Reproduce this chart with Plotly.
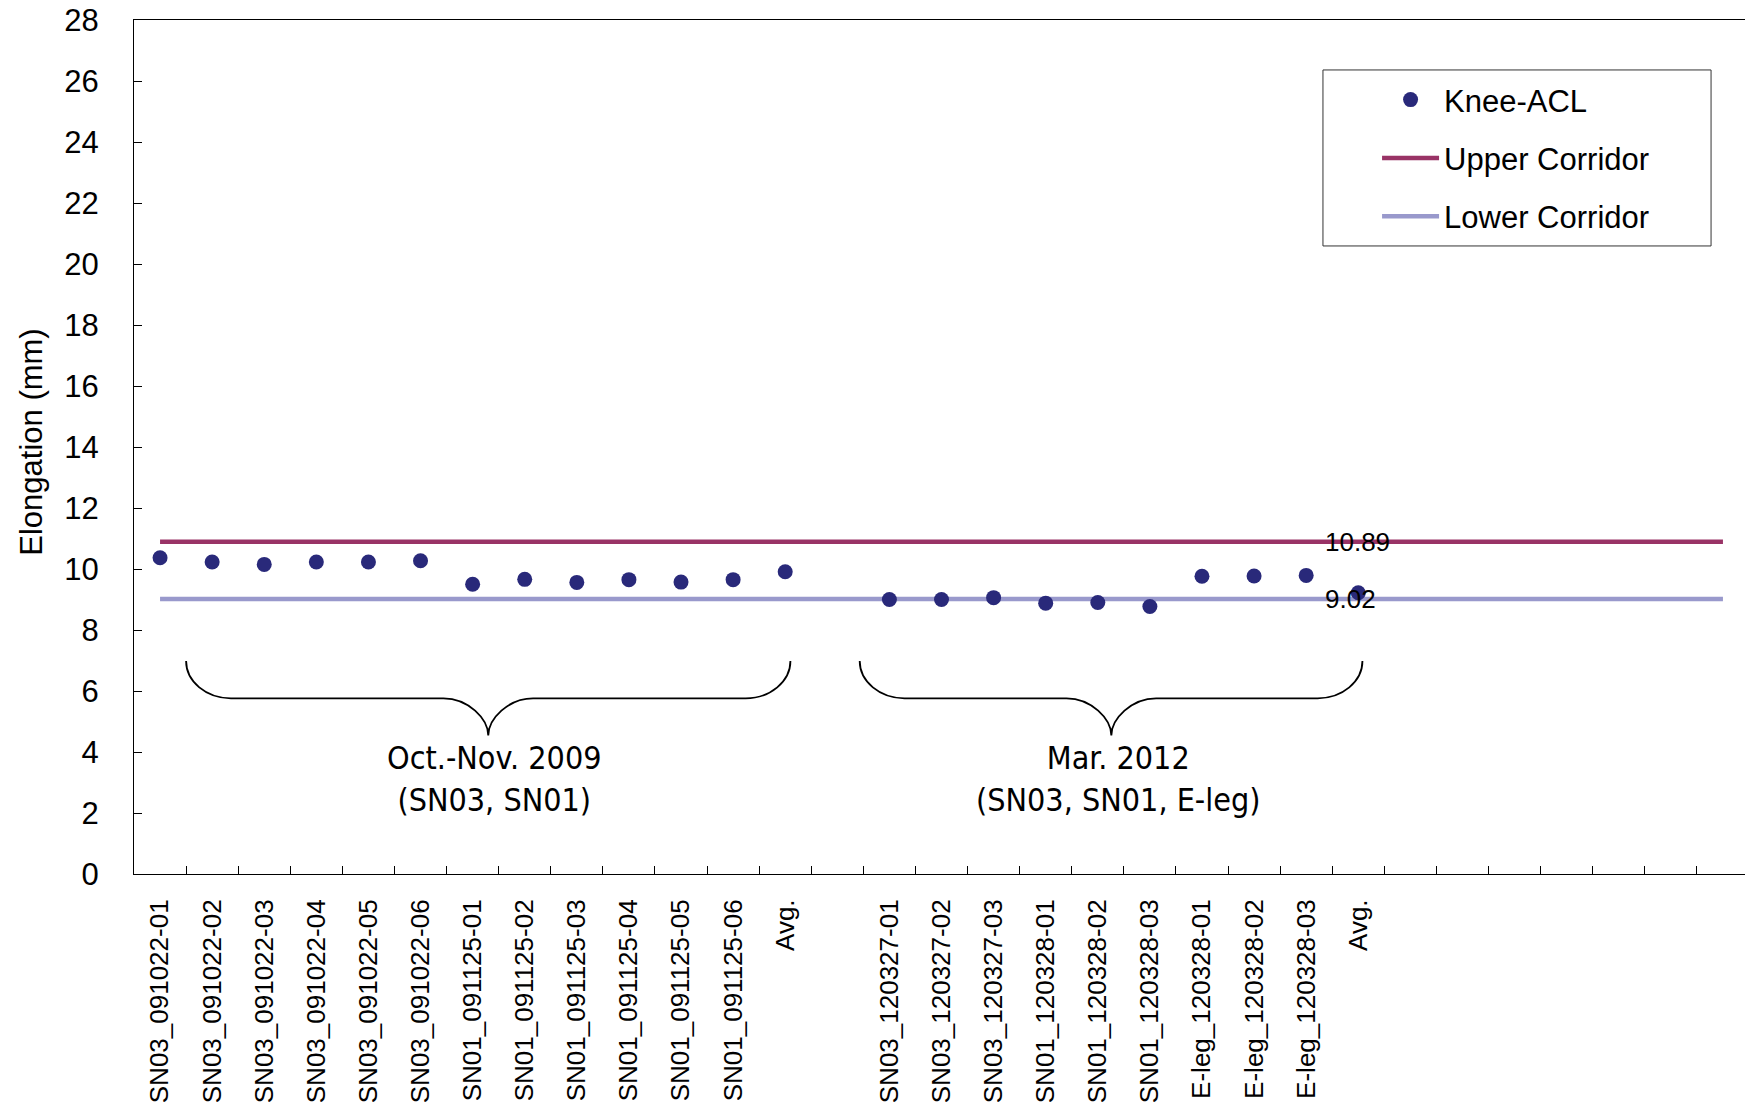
import plotly.graph_objects as go


# Category labels along the x axis (blank slots are empty positions on the axis)
categories = [
    "SN03_091022-01", "SN03_091022-02", "SN03_091022-03", "SN03_091022-04",
    "SN03_091022-05", "SN03_091022-06", "SN01_091125-01", "SN01_091125-02",
    "SN01_091125-03", "SN01_091125-04", "SN01_091125-05", "SN01_091125-06",
    "Avg.", "",
    "SN03_120327-01", "SN03_120327-02", "SN03_120327-03", "SN01_120328-01",
    "SN01_120328-02", "SN01_120328-03", "E-leg_120328-01", "E-leg_120328-02",
    "E-leg_120328-03", "Avg.",
    "", "", "", "", "", "", "",
]

# Knee-ACL elongation (mm), None where a slot is empty
knee_acl = [
    10.37, 10.23, 10.15, 10.23, 10.23, 10.27, 9.50, 9.66, 9.56, 9.65, 9.57, 9.65,
    9.91, None,
    9.00, 9.00, 9.06, 8.88, 8.90, 8.77, 9.76, 9.77, 9.79, 9.22,
    None, None, None, None, None, None, None,
]

upper_corridor = [
    10.89, 10.89, 10.89, 10.89, 10.89, 10.89, 10.89, 10.89, 10.89, 10.89, 10.89,
    10.89, 10.89, 10.89, 10.89, 10.89, 10.89, 10.89, 10.89, 10.89, 10.89, 10.89,
    10.89, 10.89, 10.89, 10.89, 10.89, 10.89, 10.89, 10.89, 10.89,
]
lower_corridor = [
    9.02, 9.02, 9.02, 9.02, 9.02, 9.02, 9.02, 9.02, 9.02, 9.02, 9.02,
    9.02, 9.02, 9.02, 9.02, 9.02, 9.02, 9.02, 9.02, 9.02, 9.02, 9.02,
    9.02, 9.02, 9.02, 9.02, 9.02, 9.02, 9.02, 9.02, 9.02,
]

group_labels = ["Oct.-Nov. 2009<br>(SN03, SN01)", "Mar. 2012<br>(SN03, SN01, E-leg)"]

y_ticks = [0, 2, 4, 6, 8, 10, 12, 14, 16, 18, 20, 22, 24, 26, 28]

colors = {
    "Knee-ACL": "#29297a",
    "Upper Corridor": "#993366",
    "Lower Corridor": "#9999cc",
}

FONT = "Liberation Sans, Arial, sans-serif"
NARROW = "DejaVu Sans Condensed, DejaVu Sans, sans-serif"

x_pos = list(range(len(categories)))
label_idx = len(categories) - 8  # the second "Avg." slot

fig = go.Figure()

# corridors first so the dots sit on top of them
fig.add_trace(go.Scatter(
    x=x_pos, y=upper_corridor, mode="lines", name="Upper Corridor",
    line=dict(color=colors["Upper Corridor"], width=4.5),
    legendgroup="upper", legendrank=2,
))
fig.add_trace(go.Scatter(
    x=x_pos, y=lower_corridor, mode="lines", name="Lower Corridor",
    line=dict(color=colors["Lower Corridor"], width=4.5),
    legendgroup="lower", legendrank=3,
))
fig.add_trace(go.Scatter(
    x=x_pos, y=knee_acl, mode="markers", name="Knee-ACL",
    marker=dict(size=15, color=colors["Knee-ACL"]),
    legendgroup="knee", legendrank=1,
))


def brace_path(x0, x1, xm, top=6.98, mid=5.76, tip=4.54, dx=0.86):
    """Curly brace opening upwards, drawn in data coordinates"""
    k = 0.45
    return (
        f"M{x0},{top} C{x0},{mid + k * (top - mid)} {x0 + k * dx},{mid} {x0 + dx},{mid} "
        f"L{xm - dx},{mid} C{xm - k * dx},{mid} {xm},{tip + k * (mid - tip)} {xm},{tip} "
        f"C{xm},{tip + k * (mid - tip)} {xm + k * dx},{mid} {xm + dx},{mid} "
        f"L{x1 - dx},{mid} C{x1 - k * dx},{mid} {x1},{mid + k * (top - mid)} {x1},{top}"
    )


braces = [(0.5, 12.1, 6.3), (13.43, 23.08, 18.26)]
for (x0, x1, xm) in braces:
    fig.add_shape(type="path", path=brace_path(x0, x1, xm), xref="x", yref="y",
                  line=dict(color="black", width=1.8))

for (x0, x1, xm), text in zip(braces, group_labels):
    fig.add_annotation(
        x=xm + 0.12, y=3.1, xref="x", yref="y", text=text, showarrow=False,
        font=dict(family=NARROW, size=32, color="black"), align="center",
    )

# corridor value labels
for series in (upper_corridor, lower_corridor):
    fig.add_annotation(
        x=label_idx, y=series[label_idx], xref="x", yref="y",
        text=f"{series[label_idx]:.2f}", showarrow=False, xanchor="left", xshift=-35,
        font=dict(family=FONT, size=26, color="black"),
    )

# y axis title
fig.add_annotation(
    x=0, y=0.505, xref="paper", yref="paper", xanchor="center", yanchor="middle",
    xshift=-102, text="Elongation (mm)", textangle=-90, showarrow=False,
    font=dict(family=FONT, size=31, color="black"),
)

# legend frame
fig.add_shape(type="rect", xref="paper", yref="paper",
              x0=0.7362, x1=0.9765, y0=0.7354, y1=0.9415,
              line=dict(color="#333333", width=1), fillcolor="white", layer="below")

fig.update_layout(
    width=1745,
    height=1096,
    margin=dict(l=126, r=4, t=12, b=230),
    plot_bgcolor="white",
    paper_bgcolor="white",
    font=dict(family=FONT, color="black"),
    showlegend=True,
    legend=dict(
        x=0.7697, y=0.938, xanchor="left", yanchor="top",
        bgcolor="rgba(0,0,0,0)", borderwidth=0,
        font=dict(family=FONT, size=31, color="black"),
        traceorder="grouped", tracegroupgap=15, itemwidth=57,
    ),
)

fig.update_xaxes(
    range=[-0.5, len(categories) - 0.5], automargin=False,
    tickmode="array", tickvals=x_pos, ticktext=categories,
    ticks="", tickangle=-90, ticklabelstandoff=14,
    tickfont=dict(family=FONT, size=26, color="black"),
    minor=dict(tickvals=[i + 0.5 for i in range(len(categories) - 1)],
               ticks="inside", ticklen=8, tickcolor="black", tickwidth=1),
    showline=True, linecolor="black", linewidth=1, mirror=True,
    showgrid=False, zeroline=False,
)
fig.update_yaxes(
    range=[0, 28], automargin=False, tickmode="array", tickvals=y_ticks,
    ticks="inside", ticklen=8, tickcolor="black", ticklabelstandoff=28,
    ticklabeloverflow="allow",
    tickfont=dict(family=FONT, size=31, color="black"),
    showline=True, linecolor="black", linewidth=1, mirror=True,
    showgrid=False, zeroline=False,
)

fig.write_html("out.html")
